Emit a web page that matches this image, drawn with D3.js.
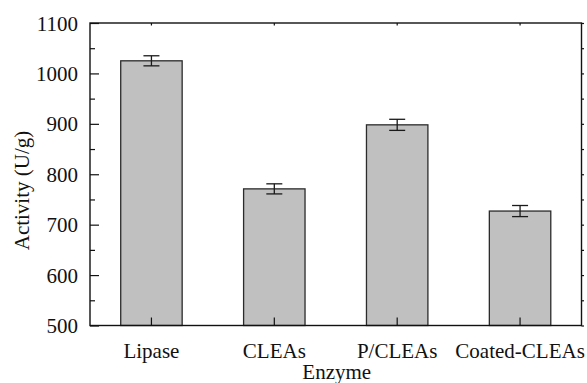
<!DOCTYPE html>
<html>
<head>
<meta charset="utf-8">
<script src="https://cdn.jsdelivr.net/npm/d3@7"></script>
<style>
  html, body { margin: 0; padding: 0; background: #fff; }
  svg { display: block; }
  svg text { font-family: 'Liberation Serif', 'Times New Roman', Times, 'DejaVu Serif', serif !important; fill: #111; }
</style>
</head>
<body>
<svg id="chart" width="587" height="383"></svg>
<script>
// Enzyme activity per preparation, with standard deviation
const categories = ["Lipase", "CLEAs", "P/CLEAs", "Coated-CLEAs"];
const activity = [1025, 771, 898, 727];
const errors = [10, 10, 11, 11];
const yMajorTicks = [500, 600, 700, 800, 900, 1000, 1100];
const yMinorTicks = [550, 650, 750, 850, 950, 1050];

const W = 587, H = 383;
const margin = { top: 23, right: 5.5, bottom: 57.5, left: 90 };
const x0 = margin.left, x1 = W - margin.right;
const y0 = H - margin.bottom, y1 = margin.top;
const FONT = "'Liberation Serif', 'Times New Roman', serif";

const svg = d3.select("#chart");

const x = d3.scaleBand().domain(categories).range([x0, x1]).paddingInner(0).paddingOuter(0);
const y = d3.scaleLinear().domain([500, 1100]).range([y0, y1]);
const barW = x.bandwidth() * 0.5;

// Bars
svg.append("g").selectAll("rect")
  .data(categories)
  .join("rect")
  .attr("x", (d) => x(d) + (x.bandwidth() - barW) / 2)
  .attr("y", (d, i) => y(activity[i]))
  .attr("width", barW)
  .attr("height", (d, i) => y0 - y(activity[i]))
  .attr("fill", "#c0c0c0")
  .attr("stroke", "#2b2b2b")
  .attr("stroke-width", 1.3);

// Error bars
const eb = svg.append("g").attr("stroke", "#1a1a1a").attr("stroke-width", 1.3).attr("fill", "none");
categories.forEach((c, i) => {
  const cx = x(c) + x.bandwidth() / 2;
  const top = y(activity[i] + errors[i]);
  const bot = y(activity[i] - errors[i]);
  eb.append("line").attr("x1", cx).attr("x2", cx).attr("y1", top).attr("y2", bot);
  eb.append("line").attr("x1", cx - 8).attr("x2", cx + 8).attr("y1", top).attr("y2", top);
  eb.append("line").attr("x1", cx - 8).attr("x2", cx + 8).attr("y1", bot).attr("y2", bot);
});

// Left axis: major ticks with labels, minor ticks without
const leftMajor = svg.append("g").attr("transform", `translate(${x0},0)`)
  .call(d3.axisLeft(y).tickValues(yMajorTicks).tickSize(-9).tickPadding(12).tickFormat(d3.format("d")));
const leftMinor = svg.append("g").attr("transform", `translate(${x0},0)`)
  .call(d3.axisLeft(y).tickValues(yMinorTicks).tickSize(-5).tickFormat(""));

// Right axis: short outward ticks
const rightAx = svg.append("g").attr("transform", `translate(${x1},0)`)
  .call(d3.axisRight(y).tickValues(yMajorTicks.concat(yMinorTicks)).tickSize(2.5).tickFormat(""));

// Bottom axis: inward ticks at category centres
const bottomAx = svg.append("g").attr("transform", `translate(0,${y0})`)
  .call(d3.axisBottom(x).tickSize(-8).tickPadding(20));

// Top axis: short inward ticks
const topAx = svg.append("g").attr("transform", `translate(0,${y1})`)
  .call(d3.axisTop(x).tickSize(-2.5).tickFormat(""));

[leftMajor, leftMinor, rightAx, bottomAx, topAx].forEach((g) => {
  g.attr("font-family", FONT).attr("font-size", 21);
  g.select(".domain").remove();
  g.selectAll(".tick line").attr("stroke", "#111").attr("stroke-width", 1.2);
});

leftMajor.selectAll(".tick text")
  .attr("fill", "#111")
  .attr("dy", "0.34em");
bottomAx.selectAll(".tick text")
  .attr("fill", "#111")
  .attr("dy", "0.71em").attr("y", 18);

// Frame
svg.append("rect")
  .attr("x", x0).attr("y", y1)
  .attr("width", x1 - x0).attr("height", y0 - y1)
  .attr("fill", "none").attr("stroke", "#111").attr("stroke-width", 1.4);

// Axis titles
svg.append("text")
  .attr("x", (x0 + x1) / 2 + 1).attr("y", 379)
  .attr("text-anchor", "middle").attr("font-size", 21).attr("font-family", FONT)
  .text("Enzyme");

svg.append("text")
  .attr("transform", "translate(29,190.5) rotate(-90)")
  .attr("text-anchor", "middle").attr("font-size", 21).attr("font-family", FONT)
  .text("Activity (U/g)");
</script>
</body>
</html>
